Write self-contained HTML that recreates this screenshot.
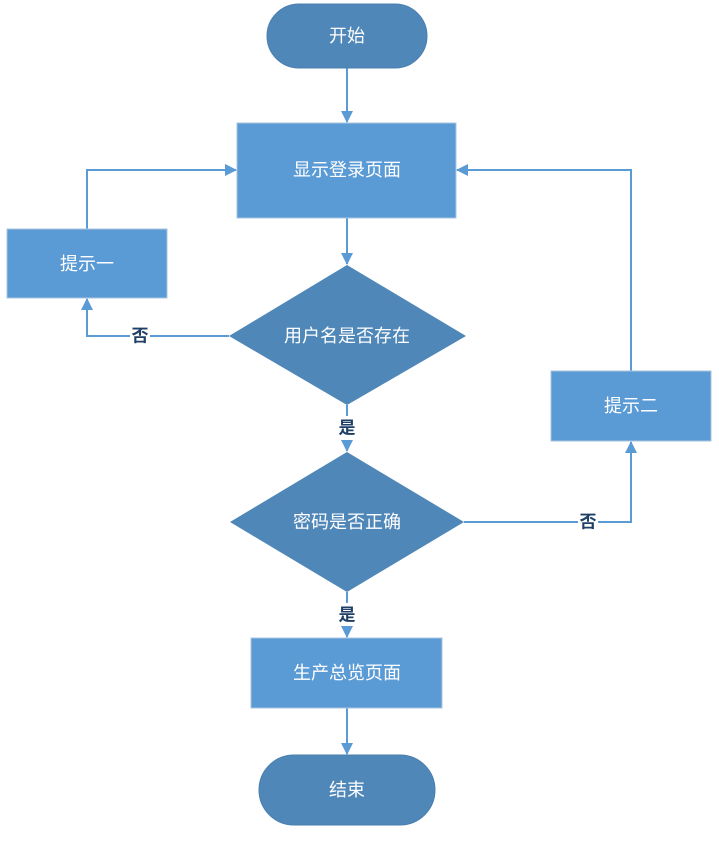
<!DOCTYPE html>
<html><head><meta charset="utf-8"><style>
html,body{margin:0;padding:0;background:#fff;}
svg text{font-family:"Liberation Sans","Noto Sans CJK SC",sans-serif;}
</style></head><body>
<svg width="719" height="836" viewBox="0 0 719 836" xmlns="http://www.w3.org/2000/svg">
<defs>
<marker id="a" markerWidth="12" markerHeight="12" refX="11" refY="6" orient="auto" markerUnits="userSpaceOnUse">
<path d="M0,0 L12,6 L0,12 z" fill="#5b9bd5"/></marker>
</defs>
<g stroke="#5b9bd5" stroke-width="2" fill="none">
<line x1="347" y1="68" x2="347" y2="122" marker-end="url(#a)"/>
<line x1="347" y1="218" x2="347" y2="264" marker-end="url(#a)"/>
<line x1="347" y1="405" x2="347" y2="416"/>
<line x1="347" y1="440" x2="347" y2="451" marker-end="url(#a)"/>
<line x1="347" y1="592" x2="347" y2="603"/>
<line x1="347" y1="627" x2="347" y2="637" marker-end="url(#a)"/>
<line x1="347" y1="708" x2="347" y2="754" marker-end="url(#a)"/>
<polyline points="229,336 87,336 87,299" marker-end="url(#a)"/>
<polyline points="87,229 87,170 236,170" marker-end="url(#a)"/>
<polyline points="464,522 631,522 631,442" marker-end="url(#a)"/>
<polyline points="631,371 631,170 457,170" marker-end="url(#a)"/>
</g>
<rect x="267" y="4" width="160" height="64" rx="32" fill="#4f87b8" stroke="#4a7fb0"/>
<rect x="237" y="123" width="219" height="95" fill="#5b9bd5" stroke="#a9c4e0"/>
<rect x="7" y="229" width="160" height="69" fill="#5b9bd5" stroke="#a9c4e0"/>
<polygon points="347,265 466,336 347,405 229,336" fill="#4f87b8"/>
<polygon points="347,452 464,522 347,592 230,522" fill="#4f87b8"/>
<rect x="551" y="371" width="160" height="70" fill="#5b9bd5" stroke="#a9c4e0"/>
<rect x="251" y="638" width="191" height="70" fill="#5b9bd5" stroke="#a9c4e0"/>
<rect x="259" y="755" width="176" height="70" rx="35" fill="#4f87b8" stroke="#4a7fb0"/>
<g fill="#fff" font-size="18" text-anchor="middle" dominant-baseline="central">
<text x="347" y="36">开始</text>
<text x="347" y="170">显示登录页面</text>
<text x="87" y="264">提示一</text>
<text x="347" y="336">用户名是否存在</text>
<text x="347" y="522">密码是否正确</text>
<text x="631" y="406">提示二</text>
<text x="347" y="673">生产总览页面</text>
<text x="347" y="790">结束</text>
</g>
<g fill="#1f3f66" font-size="17" font-weight="bold" text-anchor="middle" dominant-baseline="central">
<rect x="130" y="326" width="20" height="20" fill="#fff"/>
<text x="140" y="336">否</text>
<text x="347" y="428">是</text>
<rect x="578" y="512" width="20" height="20" fill="#fff"/>
<text x="588" y="522">否</text>
<text x="347" y="615">是</text>
</g>
</svg>
</body></html>
